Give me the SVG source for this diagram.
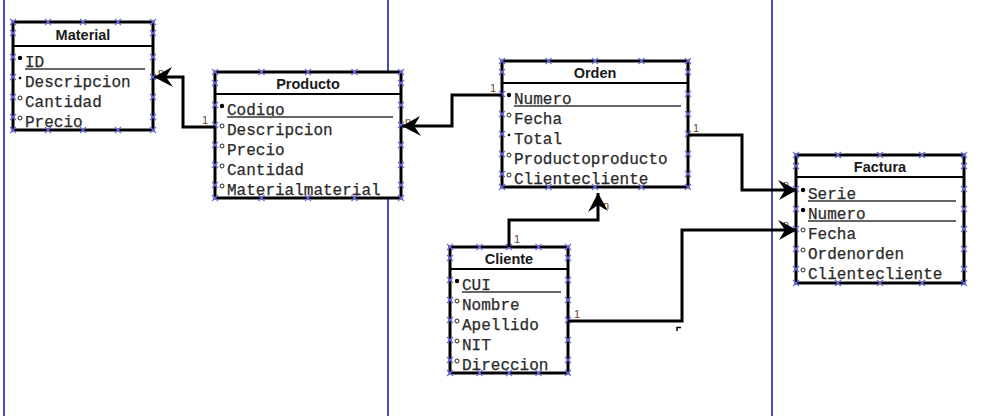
<svg xmlns="http://www.w3.org/2000/svg" xmlns:xlink="http://www.w3.org/1999/xlink" width="986" height="416" viewBox="0 0 986 416">
<style>
.bg{fill:#fff}
.lane{stroke:#4b4bc8;stroke-width:2}
.box{fill:#fff;stroke:#000;stroke-width:3}
.sep{stroke:#000;stroke-width:2}
.t{font-family:"Liberation Sans",Arial,sans-serif;font-weight:bold;font-size:14.5px;fill:#1a1a1a;text-anchor:middle}
.a{font-family:"Liberation Mono","Courier New",monospace;font-size:16px;fill:#2a2a2a;stroke:#2a2a2a;stroke-width:0.25}
.u{stroke:#666;stroke-width:2}
.k{fill:#000}
.m{fill:#000}
.o{fill:none;stroke:#222;stroke-width:1}
.c{fill:none;stroke:#000;stroke-width:3}
.lbl{font-family:"Liberation Sans",Arial,sans-serif;font-size:11px;fill:#6b4520}
.xm{stroke:#6a6ae6;stroke-width:1.2;fill:none}
</style>
<defs>
<path id="x" class="xm" d="M-3,-3L3,3M3,-3L-3,3"/>
<marker id="ar" markerUnits="userSpaceOnUse" viewBox="-20 -11 22 22" refX="0" refY="0" markerWidth="22" markerHeight="22" orient="auto">
<path d="M0,0L-19,-10L-12,0L-18,10Z" fill="#000"/>
</marker>
</defs>
<rect class="bg" x="0" y="0" width="986" height="416"/>
<g id="lanes">
<line class="lane" x1="4" y1="0" x2="4" y2="416"/>
<line class="lane" x1="388" y1="0" x2="388" y2="416"/>
<line class="lane" x1="772" y1="0" x2="772" y2="416"/>
</g>

<g id="material">
<rect class="box" x="13" y="22" width="140" height="108"/>
<line class="sep" x1="13" y1="46" x2="153" y2="46"/>
<text class="t" x="83" y="40">Material</text>
<circle class="k" cx="20" cy="58" r="2.2"/>
<text class="a" x="25" y="67">ID</text>
<line class="u" x1="25" y1="69" x2="145" y2="69"/>
<circle class="m" cx="20" cy="78" r="1.3"/>
<text class="a" x="25" y="87">Descripcion</text>
<circle class="o" cx="20" cy="98" r="2"/>
<text class="a" x="25" y="107">Cantidad</text>
<circle class="o" cx="20" cy="118" r="2"/>
<text class="a" x="25" y="127">Precio</text>
<use href="#x" x="13" y="22"/><use href="#x" x="48" y="22"/><use href="#x" x="83" y="22"/><use href="#x" x="118" y="22"/><use href="#x" x="153" y="22"/>
<use href="#x" x="13" y="130"/><use href="#x" x="48" y="130"/><use href="#x" x="83" y="130"/><use href="#x" x="118" y="130"/><use href="#x" x="153" y="130"/>
<use href="#x" x="13" y="33"/><use href="#x" x="13" y="57"/><use href="#x" x="13" y="77"/><use href="#x" x="13" y="97"/><use href="#x" x="13" y="117"/>
<use href="#x" x="153" y="33"/><use href="#x" x="153" y="57"/><use href="#x" x="153" y="77"/><use href="#x" x="153" y="97"/><use href="#x" x="153" y="117"/>
</g>

<g id="producto">
<rect class="box" x="215" y="72" width="186" height="126"/>
<line class="sep" x1="215" y1="94" x2="401" y2="94"/>
<text class="t" x="308" y="89">Producto</text>
<circle class="k" cx="222" cy="106" r="2.2"/>
<text class="a" x="227" y="115">Codigo</text>
<line class="u" x1="227" y1="117" x2="393" y2="117"/>
<circle class="o" cx="222" cy="126" r="2"/>
<text class="a" x="227" y="135">Descripcion</text>
<circle class="o" cx="222" cy="146" r="2"/>
<text class="a" x="227" y="155">Precio</text>
<circle class="o" cx="222" cy="166" r="2"/>
<text class="a" x="227" y="175">Cantidad</text>
<circle class="o" cx="222" cy="186" r="2"/>
<text class="a" x="227" y="195">Materialmaterial</text>
<use href="#x" x="215" y="72"/><use href="#x" x="261.5" y="72"/><use href="#x" x="308" y="72"/><use href="#x" x="354.5" y="72"/><use href="#x" x="401" y="72"/>
<use href="#x" x="215" y="198"/><use href="#x" x="261.5" y="198"/><use href="#x" x="308" y="198"/><use href="#x" x="354.5" y="198"/><use href="#x" x="401" y="198"/>
<use href="#x" x="215" y="83"/><use href="#x" x="215" y="105"/><use href="#x" x="215" y="125"/><use href="#x" x="215" y="145"/><use href="#x" x="215" y="165"/><use href="#x" x="215" y="185"/>
<use href="#x" x="401" y="83"/><use href="#x" x="401" y="105"/><use href="#x" x="401" y="125"/><use href="#x" x="401" y="145"/><use href="#x" x="401" y="165"/><use href="#x" x="401" y="185"/>
</g>

<g id="orden">
<rect class="box" x="502" y="61" width="186" height="126"/>
<line class="sep" x1="502" y1="83" x2="688" y2="83"/>
<text class="t" x="595" y="78">Orden</text>
<circle class="k" cx="509" cy="95" r="2.2"/>
<text class="a" x="514" y="104">Numero</text>
<line class="u" x1="514" y1="106" x2="681" y2="106"/>
<circle class="o" cx="509" cy="115" r="2"/>
<text class="a" x="514" y="124">Fecha</text>
<circle class="m" cx="509" cy="135" r="1.3"/>
<text class="a" x="514" y="144">Total</text>
<circle class="o" cx="509" cy="155" r="2"/>
<text class="a" x="514" y="164">Productoproducto</text>
<circle class="o" cx="509" cy="175" r="2"/>
<text class="a" x="514" y="184">Clientecliente</text>
<use href="#x" x="502" y="61"/><use href="#x" x="548.5" y="61"/><use href="#x" x="595" y="61"/><use href="#x" x="641.5" y="61"/><use href="#x" x="688" y="61"/>
<use href="#x" x="502" y="187"/><use href="#x" x="548.5" y="187"/><use href="#x" x="595" y="187"/><use href="#x" x="641.5" y="187"/><use href="#x" x="688" y="187"/>
<use href="#x" x="502" y="72"/><use href="#x" x="502" y="94"/><use href="#x" x="502" y="114"/><use href="#x" x="502" y="134"/><use href="#x" x="502" y="154"/><use href="#x" x="502" y="174"/>
<use href="#x" x="688" y="72"/><use href="#x" x="688" y="94"/><use href="#x" x="688" y="114"/><use href="#x" x="688" y="134"/><use href="#x" x="688" y="154"/><use href="#x" x="688" y="174"/>
</g>

<g id="factura">
<rect class="box" x="796" y="155" width="168" height="128"/>
<line class="sep" x1="796" y1="177" x2="964" y2="177"/>
<text class="t" x="880" y="172">Factura</text>
<circle class="k" cx="803" cy="190" r="2.2"/>
<text class="a" x="808" y="199">Serie</text>
<line class="u" x1="808" y1="201" x2="956" y2="201"/>
<circle class="k" cx="803" cy="210" r="2.2"/>
<text class="a" x="808" y="219">Numero</text>
<line class="u" x1="808" y1="221" x2="956" y2="221"/>
<circle class="o" cx="803" cy="230" r="2"/>
<text class="a" x="808" y="239">Fecha</text>
<circle class="o" cx="803" cy="250" r="2"/>
<text class="a" x="808" y="259">Ordenorden</text>
<circle class="o" cx="803" cy="270" r="2"/>
<text class="a" x="808" y="279">Clientecliente</text>
<use href="#x" x="796" y="155"/><use href="#x" x="838" y="155"/><use href="#x" x="880" y="155"/><use href="#x" x="922" y="155"/><use href="#x" x="964" y="155"/>
<use href="#x" x="796" y="283"/><use href="#x" x="838" y="283"/><use href="#x" x="880" y="283"/><use href="#x" x="922" y="283"/><use href="#x" x="964" y="283"/>
<use href="#x" x="796" y="166"/><use href="#x" x="796" y="189"/><use href="#x" x="796" y="209"/><use href="#x" x="796" y="229"/><use href="#x" x="796" y="249"/><use href="#x" x="796" y="269"/>
<use href="#x" x="964" y="166"/><use href="#x" x="964" y="189"/><use href="#x" x="964" y="209"/><use href="#x" x="964" y="229"/><use href="#x" x="964" y="249"/><use href="#x" x="964" y="269"/>
</g>

<g id="cliente">
<rect class="box" x="450" y="247" width="118" height="126"/>
<line class="sep" x1="450" y1="269" x2="568" y2="269"/>
<text class="t" x="509" y="264">Cliente</text>
<circle class="k" cx="457" cy="281" r="2.2"/>
<text class="a" x="462" y="290">CUI</text>
<line class="u" x1="462" y1="292" x2="561" y2="292"/>
<circle class="o" cx="457" cy="301" r="2"/>
<text class="a" x="462" y="310">Nombre</text>
<circle class="o" cx="457" cy="321" r="2"/>
<text class="a" x="462" y="330">Apellido</text>
<circle class="o" cx="457" cy="341" r="2"/>
<text class="a" x="462" y="350">NIT</text>
<circle class="o" cx="457" cy="361" r="2"/>
<text class="a" x="462" y="370">Direccion</text>
<use href="#x" x="450" y="247"/><use href="#x" x="479.5" y="247"/><use href="#x" x="509" y="247"/><use href="#x" x="538.5" y="247"/><use href="#x" x="568" y="247"/>
<use href="#x" x="450" y="373"/><use href="#x" x="479.5" y="373"/><use href="#x" x="509" y="373"/><use href="#x" x="538.5" y="373"/><use href="#x" x="568" y="373"/>
<use href="#x" x="450" y="258"/><use href="#x" x="450" y="280"/><use href="#x" x="450" y="300"/><use href="#x" x="450" y="320"/><use href="#x" x="450" y="340"/><use href="#x" x="450" y="360"/>
<use href="#x" x="568" y="258"/><use href="#x" x="568" y="280"/><use href="#x" x="568" y="300"/><use href="#x" x="568" y="320"/><use href="#x" x="568" y="340"/><use href="#x" x="568" y="360"/>
</g>

<g id="connectors">
<text class="lbl" x="158" y="76">n</text>
<text class="lbl" x="405" y="125">n</text>
<text class="lbl" x="783" y="188">n</text>
<text class="lbl" x="783" y="228">n</text>
<text class="lbl" x="603" y="209">n</text>
<text class="lbl" x="202" y="124">1</text>
<text class="lbl" x="490" y="92">1</text>
<text class="lbl" x="693" y="132">1</text>
<text class="lbl" x="514" y="243">1</text>
<text class="lbl" x="574" y="318">1</text>
<path class="c" d="M215,127H183V77H154" marker-end="url(#ar)"/>
<path class="c" d="M502,95H452V126H402" marker-end="url(#ar)"/>
<path class="c" d="M688,135H742V190H797" marker-end="url(#ar)"/>
<path class="c" d="M509,247V220H598V193" marker-end="url(#ar)"/>
<path class="c" d="M568,321H682V230H797" marker-end="url(#ar)"/>
<path d="M677,331V327.5H681" fill="none" stroke="#000" stroke-width="1.5"/>
</g>
</svg>
